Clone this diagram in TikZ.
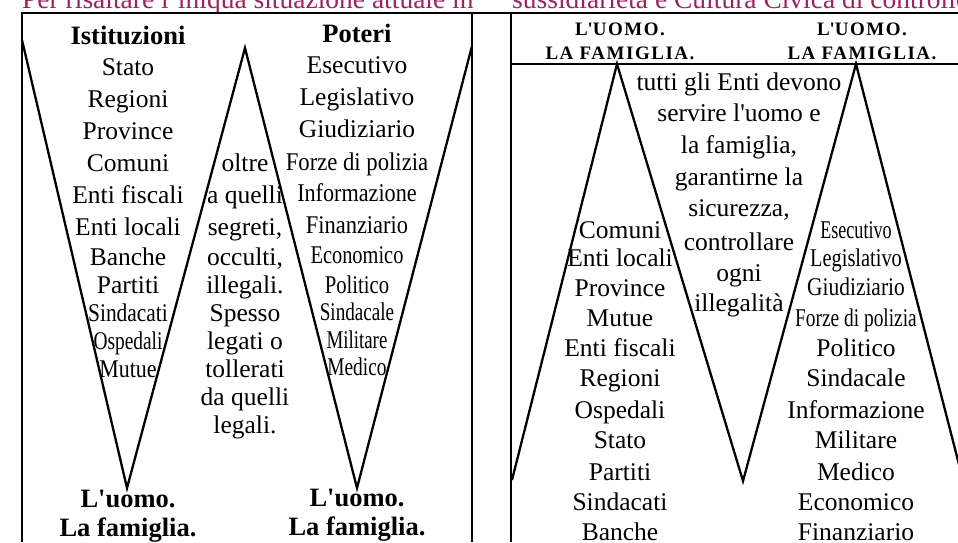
\documentclass[tikz,border=0pt]{standalone}
\usepackage{fontspec}
\setmainfont{Liberation Serif}
\usepackage{graphicx}
\usepackage{tikz}

\definecolor{titviola}{RGB}{155,35,95}
\newcommand{\stretto}[2][0.8]{\scalebox{#1}[1]{#2}}
\newcommand{\ap}{\textquotesingle}

\tikzset{
  voce/.style={font=\fontsize{25.5}{30}\selectfont, inner sep=0pt, anchor=base},
  titolo/.style={font=\bfseries\fontsize{26.5}{30}\selectfont, inner sep=0pt, anchor=base},
  testata/.style={font=\bfseries\fontsize{19}{20}\selectfont\addfontfeature{LetterSpace=8}, inner sep=0pt, anchor=base},
  intest/.style={font=\fontsize{27.5}{30}\selectfont, text=titviola, inner sep=0pt, anchor=base west},
  cornice/.style={line width=2.6pt},
  linea/.style={line width=2.3pt, line join=miter, miter limit=20},
}

\begin{document}
\begin{tikzpicture}[x=1pt, y=-1pt]
  \useasboundingbox (0,0) rectangle (958,542);
  \clip (0,0) rectangle (958,542);

  % intestazioni tagliate in alto
  \node[intest] (int-sx) at (22,8) {Per risaltare l'iniqua situazione attuale in};
  \node[intest] (int-dx) at (512,8) {sussidiarietà e Cultura Civica di controllo};

  % cornici
  \draw[cornice] (22,542) -- (22,13) -- (960,13);
  \draw[cornice] (472,13) -- (472,542);
  \draw[cornice] (511,13) -- (511,542);
  \draw[cornice] (511,64) -- (960,64);

  % zig-zag
  \draw[linea] (22,40) -- (127,488) -- (245,48) -- (357,488) -- (472,46);
  \draw[linea] (512,480) -- (617,64) -- (743,481) -- (856,64) -- (963,480);

  % situazione attuale
  \node[titolo] (ist) at (128,44) {Istituzioni};
  \foreach \y/\t [count=\i] in {67/Stato, 99/Regioni, 131/Province, 163/Comuni,
      195/Enti fiscali, 227/Enti locali, 257/Banche, 285/Partiti,
      313/{\stretto[0.84]{Sindacati}}, 341/{\stretto[0.76]{Ospedali}},
      369/{\stretto[0.86]{Mutue}}}
    \node[voce] (ist-\i) at (128,\y+8) {\t};

  \foreach \y/\t [count=\i] in {163/oltre, 195/a quelli, 227/{segreti,},
      257/{occulti,}, 285/illegali., 313/Spesso, 341/legati o,
      369/tollerati, 397/da quelli, 425/legali.}
    \node[voce] (oltre-\i) at (245,\y+8) {\t};

  \node[titolo] (pot) at (357,42) {Poteri};
  \foreach \y/\t [count=\i] in {65/Esecutivo, 97/Legislativo, 129/Giudiziario,
      162/{\stretto[0.89]{Forze di polizia}}, 193/{\stretto[0.87]{Informazione}},
      225/{\stretto[0.88]{Finanziario}}, 255/{\stretto[0.8]{Economico}},
      285/{\stretto[0.81]{Politico}}, 312/{\stretto[0.75]{Sindacale}},
      340/{\stretto[0.74]{Militare}}, 367/{\stretto[0.76]{Medico}}}
    \node[voce] (pot-\i) at (357,\y+8) {\t};

  \node[titolo] (uomo-1) at (128,507) {L\ap uomo.};
  \node[titolo] (fam-1) at (128,536) {La famiglia.};
  \node[titolo] (uomo-2) at (357,506) {L\ap uomo.};
  \node[titolo] (fam-2) at (357,535) {La famiglia.};

  % sussidiarieta
  \node[testata] (UOMO-1) at (620,35) {L\ap UOMO.};
  \node[testata] (FAM-1) at (620,59) {LA FAMIGLIA.};
  \node[testata] (UOMO-2) at (862,35) {L\ap UOMO.};
  \node[testata] (FAM-2) at (862,59) {LA FAMIGLIA.};

  \foreach \y/\t [count=\i] in {230/Comuni, 258/Enti locali, 288/Province,
      318/Mutue, 348/Enti fiscali, 378/Regioni, 410/Ospedali, 440/Stato,
      472/Partiti, 502/Sindacati, 532/Banche}
    \node[voce] (enti-\i) at (620,\y+8) {\t};

  \foreach \y/\t [count=\i] in {82/tutti gli Enti devono, 113/servire l\ap uomo e,
      145/{la famiglia,}, 177/garantirne la, 208/{sicurezza,},
      242/controllare, 273/ogni, 303/illegalità}
    \node[voce] (tutti-\i) at (739,\y+8) {\t};

  \foreach \y/\t [count=\i] in {230/{\stretto[0.71]{Esecutivo}},
      258/{\stretto[0.8]{Legislativo}}, 287/{\stretto[0.84]{Giudiziario}},
      318/{\stretto[0.76]{Forze di polizia}}, 348/Politico, 378/Sindacale,
      410/Informazione, 440/Militare, 472/Medico, 502/Economico, 532/Finanziario}
    \node[voce] (poteri-\i) at (856,\y+8) {\t};
\end{tikzpicture}
\end{document}
